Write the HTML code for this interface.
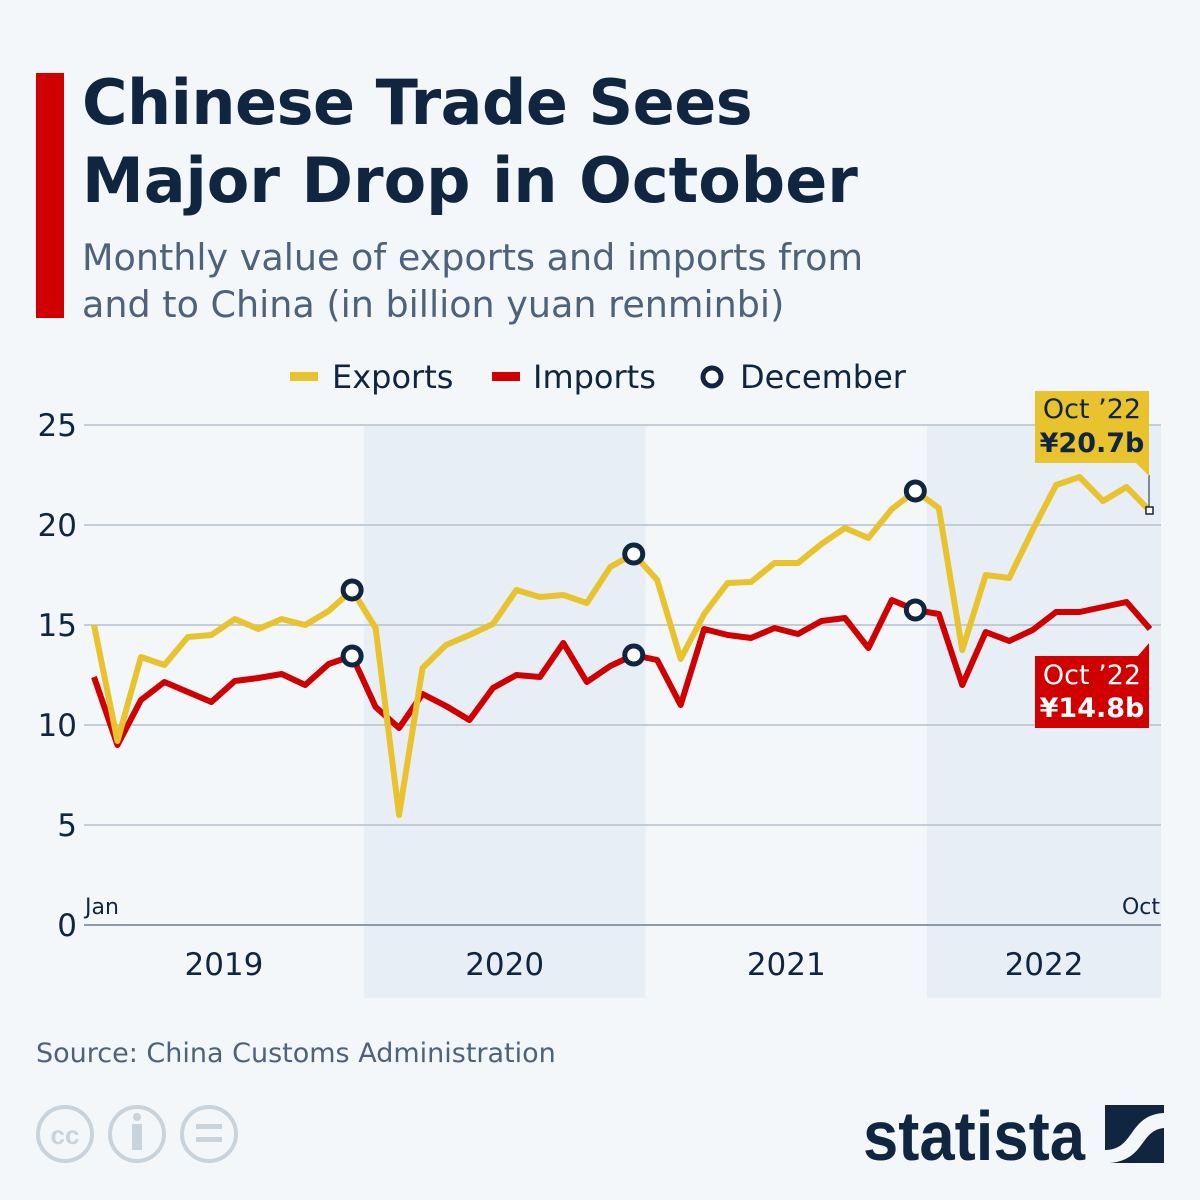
<!DOCTYPE html>
<html><head><meta charset="utf-8">
<style>
body{margin:0;background:#f3f7fa;width:1200px;height:1200px;overflow:hidden;font-family:"Liberation Sans","DejaVu Sans",sans-serif;}
svg{display:block}
</style></head>
<body>
<svg width="1200" height="1200" viewBox="0 0 1200 1200">
<rect x="0" y="0" width="1200" height="1200" fill="#f3f7fa"/>
<rect x="36" y="73" width="28" height="245" fill="#d10000"/>
<text x="82" y="124" font-size="62" font-weight="bold" fill="#10253f" font-family="DejaVu Sans, sans-serif" letter-spacing="-0.5">Chinese Trade Sees</text>
<text x="82" y="202" font-size="62" font-weight="bold" fill="#10253f" font-family="DejaVu Sans, sans-serif">Major Drop in October</text>
<text x="82" y="270" font-size="36.5" fill="#4e627a" font-family="DejaVu Sans, sans-serif">Monthly value of exports and imports from</text>
<text x="82" y="317" font-size="36.5" fill="#4e627a" font-family="DejaVu Sans, sans-serif">and to China (in billion yuan renminbi)</text>

<g font-family="DejaVu Sans, sans-serif" font-size="32" fill="#10253f">
 <g><rect x="290" y="372" width="28" height="9" fill="#e8c32e"/><text x="332" y="388">Exports</text></g>
 <g><rect x="492" y="372" width="28" height="9" fill="#d10000"/><text x="533" y="388">Imports</text></g>
 <g><circle cx="712" cy="377" r="9" fill="#fff" stroke="#10253f" stroke-width="5"/><text x="740" y="388">December</text></g>
</g>

<g id="plot"></g>

<text x="36" y="1062" font-size="27" fill="#4e627a" font-family="DejaVu Sans, sans-serif">Source: China Customs Administration</text>
<g fill="none" stroke="#c8d3dc" stroke-width="4">
 <circle cx="65" cy="1134" r="27"/><circle cx="137" cy="1134" r="27"/><circle cx="209" cy="1134" r="27"/>
 <text x="65" y="1144" font-size="26" font-weight="bold" fill="#c8d3dc" stroke="none" text-anchor="middle">cc</text>
 <circle cx="137" cy="1117" r="4" fill="#c8d3dc" stroke="none"/><rect x="132" y="1124" width="10" height="26" fill="#c8d3dc" stroke="none"/>
 <rect x="196" y="1124" width="26" height="5" fill="#c8d3dc" stroke="none"/><rect x="196" y="1137" width="26" height="5" fill="#c8d3dc" stroke="none"/>
</g>
<g>
 <text x="863" y="1160" font-size="70" font-weight="bold" fill="#10253f" font-family="Liberation Sans Narrow, Liberation Sans, sans-serif" textLength="222" lengthAdjust="spacingAndGlyphs">statista</text>
 <rect x="1105" y="1105" width="59" height="58" fill="#10253f"/>
 <path d="M1105 1150 C1135 1150 1128 1115 1164 1113 L1164 1128 C1140 1130 1145 1160 1110 1163 L1105 1163 Z" fill="#f3f7fa"/>
</g>
</svg>
<script>
const months=["Jan19","Feb19","Mar19","Apr19","May19","Jun19","Jul19","Aug19","Sep19","Oct19","Nov19","Dec19","Jan20","Feb20","Mar20","Apr20","May20","Jun20","Jul20","Aug20","Sep20","Oct20","Nov20","Dec20","Jan21","Feb21","Mar21","Apr21","May21","Jun21","Jul21","Aug21","Sep21","Oct21","Nov21","Dec21","Jan22","Feb22","Mar22","Apr22","May22","Jun22","Jul22","Aug22","Sep22","Oct22"];
const exportsVals=[15.0,9.2,13.4,13.0,14.4,14.5,15.3,14.8,15.3,15.0,15.7,16.75,14.85,5.5,12.85,14.0,14.5,15.05,16.75,16.4,16.5,16.1,17.9,18.55,17.25,13.3,15.55,17.1,17.15,18.1,18.1,19.05,19.85,19.35,20.8,21.7,20.85,13.75,17.5,17.35,19.75,22.0,22.4,21.2,21.9,20.7];
const importsVals=[12.4,9.0,11.25,12.15,11.65,11.15,12.2,12.35,12.55,12.0,13.05,13.45,10.9,9.85,11.55,10.95,10.25,11.85,12.5,12.4,14.1,12.15,12.95,13.5,13.25,11.0,14.8,14.5,14.35,14.85,14.55,15.2,15.35,13.85,16.25,15.75,15.55,12.0,14.65,14.2,14.75,15.65,15.65,15.9,16.15,14.8];
const yTicks=[0,5,10,15,20,25];
const years=["2019","2020","2021","2022"];
const NS="http://www.w3.org/2000/svg";
const g=document.getElementById('plot');
const X0=94,X1=1150,Y0=925,YS=20;
const xs=i=>X0+i*(X1-X0)/(months.length-1);
const ys=v=>Y0-v*YS;
function mk(t,a){const e=document.createElementNS(NS,t);for(const k in a)e.setAttribute(k,a[k]);g.appendChild(e);return e;}
years.forEach((y,k)=>{
 const left=k===0?84:(xs(k*12)+xs(k*12-1))/2;
 const right=k===3?1161:(xs(k*12+12)+xs(k*12+11))/2;
 if(k%2===1){const r=mk('rect',{x:left,y:ys(25),width:right-left,height:998-ys(25),fill:'#e8eef6'});
 
 }
 const t=mk('text',{x:(left+right)/2,y:975,'font-size':31,fill:'#10253f','text-anchor':'middle','font-family':'DejaVu Sans, sans-serif'});
 t.textContent=y;
 
 
});
yTicks.forEach(v=>{
 const l=mk('line',{x1:84,x2:1161,y1:ys(v),y2:ys(v),stroke:v===0?'#8c9aaa':'#b4c0cc','stroke-width':v===0?2:1.5});
 
 
 const t=mk('text',{x:77,y:ys(v)+11,'font-size':31,fill:'#10253f','text-anchor':'end','font-family':'DejaVu Sans, sans-serif'});
 t.textContent=v;
 
 
});
const j=mk('text',{x:85,y:914,'font-size':22,fill:'#10253f','font-family':'DejaVu Sans, sans-serif'});j.textContent='Jan';


const o=mk('text',{x:1160,y:914,'font-size':22,fill:'#10253f','text-anchor':'end','font-family':'DejaVu Sans, sans-serif'});o.textContent='Oct';


function line(vals,col,name){
 const p=mk('polyline',{points:vals.map((v,i)=>xs(i)+','+ys(v)).join(' '),fill:'none',stroke:col,'stroke-width':6,'stroke-linejoin':'round'});
 
 
}
line(importsVals,'#d10000','imports-line');
line(exportsVals,'#e8c32e','exports-line');
[11,23,35].forEach(i=>{
 [exportsVals,importsVals].forEach((arr,s)=>{
  const c=mk('circle',{cx:xs(i),cy:ys(arr[i]),r:9,fill:'#fff',stroke:'#10253f','stroke-width':5});
  
  
 });
});
const li=months.length-1,lx=xs(li);
const ey=ys(exportsVals[li]);
const cn=mk('line',{x1:lx-1,x2:lx-1,y1:475,y2:ey-3,stroke:'#10253f','stroke-width':1});


const sq=mk('rect',{x:lx-4,y:ey-4,width:7,height:7,fill:'#fff',stroke:'#10253f','stroke-width':1.5});


const eb=mk('path',{d:`M1035 391 H1149 V476 L1136 463 H1035 Z`,fill:'#e8c32e'});


const et1=mk('text',{x:1092,y:418,'font-size':27,fill:'#10253f','text-anchor':'middle','font-family':'DejaVu Sans, sans-serif'});et1.textContent='Oct ’22';


const et2=mk('text',{x:1092,y:452,'font-size':27,'font-weight':'bold',fill:'#10253f','text-anchor':'middle','font-family':'DejaVu Sans, sans-serif'});et2.textContent='¥'+exportsVals[li]+'b';


const ib=mk('path',{d:`M1035 656 H1138 L1149 643 V728 H1035 Z`,fill:'#d10000'});


const it1=mk('text',{x:1092,y:684,'font-size':27,fill:'#fff','text-anchor':'middle','font-family':'DejaVu Sans, sans-serif'});it1.textContent='Oct ’22';


const it2=mk('text',{x:1092,y:717,'font-size':27,'font-weight':'bold',fill:'#fff','text-anchor':'middle','font-family':'DejaVu Sans, sans-serif'});it2.textContent='¥'+importsVals[li]+'b';


</script>
</body></html>
